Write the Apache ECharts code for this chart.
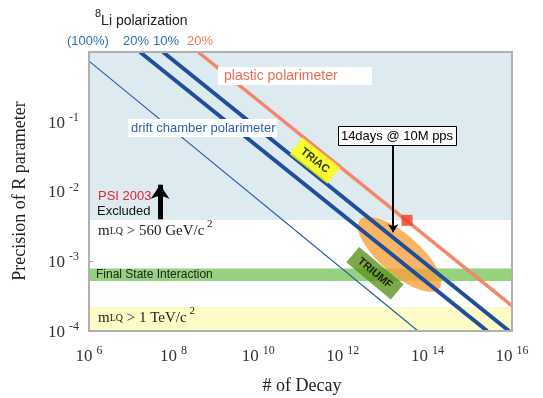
<!DOCTYPE html>
<html><head><meta charset="utf-8">
<script src="https://cdn.jsdelivr.net/npm/echarts@6/dist/echarts.min.js"></script>
<style>html,body{margin:0;padding:0;background:#fff}#c{width:543px;height:398px}</style>
</head><body><div id="c"></div>
<script>
// ---- data ----
const xRange = [1e6, 1e16];          // # of decay
const yRange = [1e-4, 1];            // precision
const blueBand = [3.9e-3, 1];        // PSI 2003 excluded region
const fsiBand = [5.2e-4, 7.9e-4];    // Final State Interaction
const tevBand = [1e-4, 2.2e-4];      // mLQ > 1 TeV/c2
const line100 = [[1e6, 0.74], [6.0e13, 1e-4]];
const line20blue = [[1.6e7, 1], [2.6e15, 1e-4]];
const line10blue = [[5.6e7, 1], [8.5e15, 1e-4]];
const line20plastic = [[3.8e8, 1], [1e16, 2.3e-4]];
const psiPoint = [[3.3e13, 3.86e-3]];
const triumfRegion = [[2.2e13, 1.26e-3]];
const triacLabelPos = [[2.2e11, 2.77e-2]];
const triumfLabelPos = [[5.75e12, 6.74e-4]];
const arrow14days = [[1.55e13, 4.54e-2], [1.55e13, 2.6e-3]];
const arrowPSI = [[4.8e7, 4.0e-3], [4.8e7, 1.25e-2]];
const topLabels = ['(100%)', '20%', '10%', '20%'];

const chart = echarts.init(document.getElementById('c'), null, {renderer: 'canvas'});
const serif = 'Liberation Serif, Times New Roman, serif';
const sans = 'Liberation Sans, Arial, sans-serif';
const BLUE = '#1f4e9c', SALMON = '#f4866b';

function powLabel(v) {
  const e = Math.round(Math.log10(v));
  if (e === 0) return '';
  return '{b|10}{s|' + e + '}';
}
const labelRich = {
  b: {fontFamily: serif, fontSize: 17, color: '#333', verticalAlign: 'bottom', lineHeight: 20},
  s: {fontFamily: serif, fontSize: 12, color: '#333', verticalAlign: 'top', padding: [0, 0, 0, 4], lineHeight: 12}
};

const lineSeries = (data, color, width, z) => ({
  type: 'line', data: data, symbol: 'none', silent: true, z: z,
  lineStyle: {color: color, width: width, cap: 'butt'}
});

const mRich = {
  m: {fontSize: 15, fontFamily: serif, fill: '#222', verticalAlign: 'bottom', lineHeight: 20},
  l: {fontSize: 10, fontFamily: serif, fill: '#222', verticalAlign: 'bottom', lineHeight: 15, padding: [0, 0, 3, 0]},
  s: {fontSize: 11, fontFamily: serif, fill: '#222', verticalAlign: 'top', lineHeight: 12}
};

const option = {
  animation: false,
  grid: {left: 89, right: 31, top: 52, bottom: 67, show: true, borderColor: '#b0b0b0', borderWidth: 2, z: 10, backgroundColor: 'transparent'},
  xAxis: {
    type: 'log', logBase: 10, min: xRange[0], max: xRange[1], interval: 2,
    axisLine: {lineStyle: {color: '#a8a8a8', width: 2}},
    axisTick: {inside: true, length: 4, lineStyle: {color: '#a8a8a8'}},
    splitLine: {show: false}, minorTick: {show: false},
    axisLabel: {formatter: powLabel, rich: labelRich, margin: 14, showMinLabel: true, showMaxLabel: true}
  },
  yAxis: {
    type: 'log', logBase: 10, min: yRange[0], max: yRange[1], interval: 1,
    axisLine: {lineStyle: {color: '#a8a8a8', width: 2}},
    axisTick: {inside: true, length: 4, lineStyle: {color: '#a8a8a8'}},
    splitLine: {show: false},
    axisLabel: {formatter: powLabel, rich: labelRich, margin: 10}
  },
  series: [
    {
      type: 'line', data: [], silent: true, z: 1,
      markArea: {
        silent: true, label: {show: false},
        data: [
          [{yAxis: blueBand[0], itemStyle: {color: '#ddebf0', borderWidth: 0}}, {yAxis: blueBand[1]}],
          [{yAxis: fsiBand[0], itemStyle: {color: '#96d17e', borderWidth: 0}}, {yAxis: fsiBand[1]}],
          [{yAxis: tevBand[0], itemStyle: {color: '#fdfbc6', borderWidth: 0}}, {yAxis: tevBand[1]}]
        ]
      }
    },
    {type: 'scatter', data: triumfRegion, symbol: 'circle', symbolSize: [105, 40], symbolRotate: -41,
     itemStyle: {color: '#f7a13f'}, silent: true, z: 2},
    lineSeries(line100, '#2a5ca8', 1.2, 3),
    lineSeries(line20blue, BLUE, 4, 3),
    lineSeries(line10blue, BLUE, 4, 3),
    lineSeries(line20plastic, SALMON, 3.5, 3),
    {type: 'scatter', data: psiPoint, symbol: 'rect', symbolSize: 11, itemStyle: {color: '#f23b26'}, silent: true, z: 4},
    {type: 'scatter', data: triacLabelPos, symbol: 'rect', symbolSize: [48, 21], symbolRotate: -38,
     itemStyle: {color: '#ffff00'}, silent: true, z: 5,
     label: {show: true, position: 'inside', formatter: 'TRIAC', rotate: -38, color: '#000', fontWeight: 'bold', fontSize: 11, fontFamily: sans}},
    {type: 'scatter', data: triumfLabelPos, symbol: 'rect', symbolSize: [58, 20], symbolRotate: -40,
     itemStyle: {color: '#5c931f'}, silent: true, z: 5,
     label: {show: true, position: 'inside', formatter: 'TRIUMF', rotate: -40, color: '#000', fontWeight: 'bold', fontSize: 11, fontFamily: sans}},
    {type: 'lines', coordinateSystem: 'cartesian2d', silent: true, z: 6,
     data: [{coords: arrow14days}], symbol: ['none', 'arrow'], symbolSize: 8,
     lineStyle: {color: '#000', width: 2, opacity: 1}},
    {type: 'lines', coordinateSystem: 'cartesian2d', silent: true, z: 6,
     data: [{coords: arrowPSI}], symbol: ['none', 'arrow'], symbolSize: 14,
     lineStyle: {color: '#000', width: 5, opacity: 1}}
  ],
  graphic: [
    {type: 'text', x: 95, y: 18, style: {text: '{s|8}{t|Li polarization}', textVerticalAlign: 'middle',
      rich: {s: {fontSize: 11, fontFamily: sans, fill: '#222', verticalAlign: 'top', lineHeight: 20},
             t: {fontSize: 14, fontFamily: sans, fill: '#222', verticalAlign: 'bottom', lineHeight: 20}}}},
    {type: 'text', x: 67, y: 41, style: {text: topLabels[0], font: '13px ' + sans, fill: '#2f6db5', textVerticalAlign: 'middle'}},
    {type: 'text', x: 123, y: 41, style: {text: topLabels[1], font: '13px ' + sans, fill: '#2f6db5', textVerticalAlign: 'middle'}},
    {type: 'text', x: 153, y: 41, style: {text: topLabels[2], font: '13px ' + sans, fill: '#2f6db5', textVerticalAlign: 'middle'}},
    {type: 'text', x: 187, y: 41, style: {text: topLabels[3], font: '13px ' + sans, fill: '#f07a5e', textVerticalAlign: 'middle'}},
    {type: 'rect', z: 20, shape: {x: 218, y: 67, width: 154, height: 18}, style: {fill: '#fff'}},
    {type: 'text', z: 21, x: 224, y: 76, style: {text: 'plastic polarimeter', font: '14px ' + sans, fill: '#ef6a50', textVerticalAlign: 'middle'}},
    {type: 'rect', z: 20, shape: {x: 128, y: 119, width: 149, height: 18}, style: {fill: '#fff'}},
    {type: 'text', z: 21, x: 131, y: 128, style: {text: 'drift chamber polarimeter', font: '13px ' + sans, fill: '#2a62ad', textVerticalAlign: 'middle'}},
    {type: 'rect', z: 20, shape: {x: 338.5, y: 126.5, width: 118, height: 19}, style: {fill: '#fff', stroke: '#000', lineWidth: 1}},
    {type: 'text', z: 21, x: 397, y: 136, style: {text: '14days @ 10M pps', font: '13px ' + sans, fill: '#000', textAlign: 'center', textVerticalAlign: 'middle'}},
    {type: 'text', z: 21, x: 98, y: 196, style: {text: 'PSI 2003', font: '13px ' + sans, fill: '#e8242e', textVerticalAlign: 'middle'}},
    {type: 'text', z: 21, x: 97, y: 211, style: {text: 'Excluded', font: '13px ' + sans, fill: '#111', textVerticalAlign: 'middle'}},
    {type: 'text', z: 21, x: 98, y: 229, style: {text: '{m|m}{l|LQ}{m| > 560 GeV/c}{s| 2}', textVerticalAlign: 'middle', rich: mRich}},
    {type: 'text', z: 21, x: 96, y: 275, style: {text: 'Final State Interaction', font: '12px ' + sans, fill: '#222', textVerticalAlign: 'middle'}},
    {type: 'text', z: 21, x: 98, y: 316, style: {text: '{m|m}{l|LQ}{m| > 1 TeV/c}{s| 2}', textVerticalAlign: 'middle', rich: mRich}},
    {type: 'text', x: 20, y: 191, rotation: Math.PI / 2, style: {text: 'Precision of R parameter', font: '18px ' + serif, fill: '#222', textAlign: 'center', textVerticalAlign: 'middle'}},
    {type: 'text', x: 302, y: 386, style: {text: '# of Decay', font: '18px ' + serif, fill: '#222', textAlign: 'center', textVerticalAlign: 'middle'}}
  ]
};
chart.setOption(option);
</script>
</body></html>
